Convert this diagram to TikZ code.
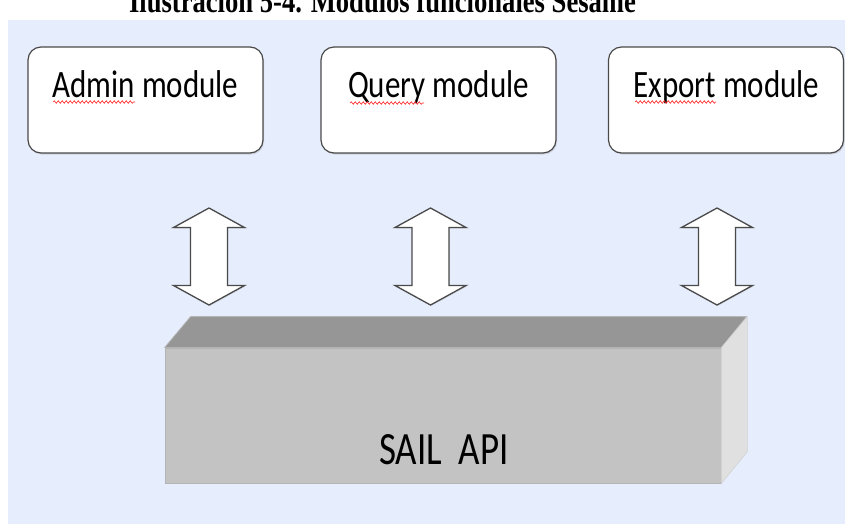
\documentclass[tikz,border=0pt]{standalone}
\usepackage{fontspec}
\setmainfont{Liberation Serif}
\newfontfamily\calib{Carlito}
\usetikzlibrary{decorations.pathmorphing,shadows}

\definecolor{bgblue}{HTML}{E6EDFC}
\definecolor{edgegray}{HTML}{4A4A4A}
\definecolor{topgray}{HTML}{969696}
\definecolor{frontgray}{HTML}{C3C3C3}
\definecolor{sidegray}{HTML}{E0E0E0}
\definecolor{rimgray}{HTML}{B4B4B4}

\tikzset{
  modbox/.style={draw=edgegray, line width=1.2pt, fill=white, rounded corners=13pt,
    minimum width=235pt, minimum height=106pt, inner sep=0pt,
    drop shadow={shadow xshift=1pt, shadow yshift=-1.5pt, opacity=0.25}},
  modtext/.style={anchor=base, inner sep=0pt, font=\calib\fontsize{31}{36}\selectfont},
  blockarrow/.style={draw=edgegray, line width=1.3pt, fill=white, line join=miter,
    drop shadow={shadow xshift=0.8pt, shadow yshift=-1pt, opacity=0.2}},
  spellmark/.style={draw=red!85, line width=0.6pt,
    decorate, decoration={snake, amplitude=1.3pt, segment length=4pt}},
  facefront/.style={fill=frontgray, draw=rimgray, line width=0.8pt,
    minimum width=556pt, minimum height=135pt, inner sep=0pt},
}

% double-headed block arrow around a centre point
\newcommand{\linkarrow}[1]{%
  \path[blockarrow] (#1) ++(0,-48.5) -- ++(35.5,19.5) -- ++(-17,0) -- ++(0,58)
    -- ++(17,0) -- ++(-35.5,19.5) -- ++(-35.5,-19.5) -- ++(17,0) -- ++(0,-58)
    -- ++(-17,0) -- cycle;}

\begin{document}
\begin{tikzpicture}[x=1pt, y=-1pt]
\useasboundingbox (0,0) rectangle (845,523);

% panel background
\fill[bgblue] (8,20) rectangle (850,530);

% caption, partly above the page edge
\node[anchor=base, inner sep=0pt, font=\bfseries\fontsize{26.6}{30}\selectfont] (title)
  at (382.5,12.5) {\scalebox{1}[1.25]{Ilustración 5-4. Módulos funcionales Sesame}};

% the three modules
\node[modbox] (admin)  at (145.5,100) {};
\node[modbox] (query)  at (438.5,100) {};
\node[modbox] (export) at (726,100) {};

\node[modtext] (admintxt)  at (145.5,97) {\scalebox{1}[1.25]{Admin module}};
\node[modtext] (querytxt)  at (438.5,97) {\scalebox{1}[1.25]{Query module}};
\node[modtext] (exporttxt) at (726.5,97) {\scalebox{1}[1.25]{Export module}};

% spell-check squiggles under the first words
\coordinate (s1a) at (53,102);  \coordinate (s1b) at (135,102);
\coordinate (s2a) at (350,103); \coordinate (s2b) at (424,103);
\coordinate (s3a) at (635,102); \coordinate (s3b) at (716,102);
\draw[spellmark] (s1a) -- (s1b);
\draw[spellmark] (s2a) -- (s2b);
\draw[spellmark] (s3a) -- (s3b);

% links between modules and the API
\coordinate (c1) at (209,256.5);
\coordinate (c2) at (430.5,256.5);
\coordinate (c3) at (717,256.5);
\linkarrow{c1}
\linkarrow{c2}
\linkarrow{c3}

% SAIL API block
\node[facefront] (api) at (443,415.5) {};
\path[fill=topgray, draw=rimgray, line width=0.8pt, line join=round]
  (api.north west) -- ++(26,-31) -- ++(556,0) -- (api.north east) -- cycle;
\path[fill=sidegray, draw=rimgray!60, line width=0.6pt, line join=round]
  (api.north east) -- ++(26,-31) -- ++(0,135) -- (api.south east) -- cycle;
\node[anchor=base, inner sep=0pt, font=\calib\fontsize{37}{42}\selectfont] (apitxt)
  at (444,464) {\scalebox{1}[1.25]{SAIL\ \ API}};
\end{tikzpicture}
\end{document}
